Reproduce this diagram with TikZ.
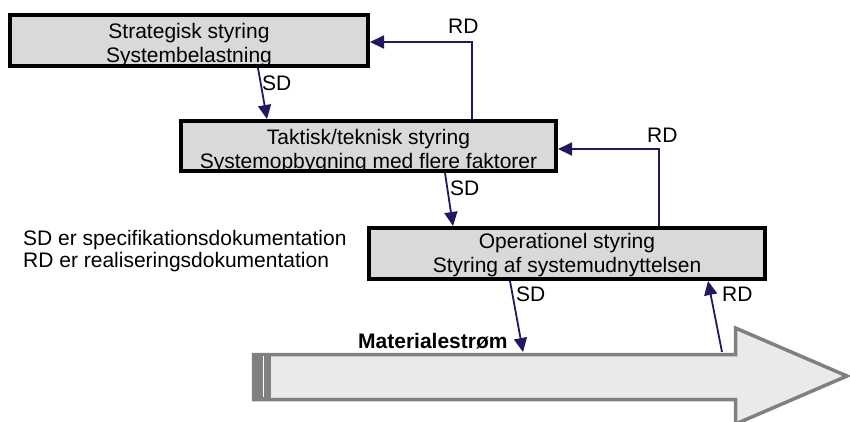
\documentclass[tikz,border=0pt]{standalone}
\usepackage{fontspec}
\setmainfont{Liberation Sans}
\usetikzlibrary{arrows.meta,calc}
\definecolor{boxfill}{RGB}{217,217,217}
\definecolor{conncol}{RGB}{32,24,96}
\definecolor{flowline}{RGB}{128,128,128}
\definecolor{flowfill}{RGB}{234,234,234}
\begin{document}
\begin{tikzpicture}[x=1pt,y=-1pt,
  font=\fontsize{21}{24}\selectfont,
  levelbox/.style={draw=black,line width=4pt,fill=boxfill,inner sep=0pt},
  boxtext/.style={anchor=base,inner sep=0pt},
  lbl/.style={anchor=base west,inner sep=0pt},
  conn/.style={draw=conncol,line width=1.8pt,-{Triangle[length=14pt,width=13pt]}}]
\useasboundingbox (0,0) rectangle (850,421);

% material flow arrow
\draw[flowline,line width=3.5pt,fill=flowfill,line join=miter]
  (253.5,354.5) -- (735.5,354.5) -- (735.5,328) -- (847,376) -- (735.5,424)
  -- (735.5,399.5) -- (253.5,399.5) -- cycle;
\fill[flowline] (252,352.8) rectangle (271,401.2);
\fill[white] (262.5,356) rectangle (264.3,397);
\coordinate (sdend) at (523,352);
\coordinate (rdstart) at (722,352);
\node[lbl,font=\fontsize{21}{24}\selectfont\bfseries] (mat) at (358,348) {Materialestrøm};

% boxes
\node[levelbox,minimum width=358pt,minimum height=51pt] (b1) at (189,40.5) {};
\node[levelbox,minimum width=375pt,minimum height=50pt] (b2) at (368.5,146) {};
\node[levelbox,minimum width=396pt,minimum height=51pt] (b3) at (567,253.5) {};

\node[boxtext] (t1a) at (189,38) {Strategisk styring};
\node[boxtext] (t1b) at (189,62) {Systembelastning};
\node[boxtext] (t2a) at (368.5,144) {Taktisk/teknisk styring};
\node[boxtext] (t2b) at (368.5,168) {Systemopbygning med flere faktorer};
\node[boxtext] (t3a) at (567,248) {Operationel styring};
\node[boxtext] (t3b) at (567,272) {Styring af systemudnyttelsen};

% legend
\node[lbl] (leg1) at (23,245) {SD er specifikationsdokumentation};
\node[lbl] (leg2) at (23,267) {RD er realiseringsdokumentation};

% connectors
\draw[conn] ([xshift=69pt]b1.south) -- ([xshift=-101.5pt]b2.north);
\draw[conn] ([xshift=76.5pt]b2.south) -- ([xshift=-114pt]b3.north);
\draw[conn] ([xshift=-57pt]b3.south) -- (sdend);
\draw[conn] (rdstart) -- ([xshift=141pt]b3.south);
\draw[conn] ([xshift=103.5pt]b2.north) |- ([yshift=-1.5pt]b1.east);
\draw[conn] ([xshift=92pt]b3.north) |- ([yshift=-3pt]b2.east);

% connector labels
\node[lbl] (lrd1) at (448,33) {RD};
\node[lbl] (lsd1) at (262,90) {SD};
\node[lbl] (lrd2) at (647,142) {RD};
\node[lbl] (lsd2) at (450,195) {SD};
\node[lbl] (lsd3) at (516,301) {SD};
\node[lbl] (lrd3) at (722,301) {RD};
\end{tikzpicture}
\end{document}
